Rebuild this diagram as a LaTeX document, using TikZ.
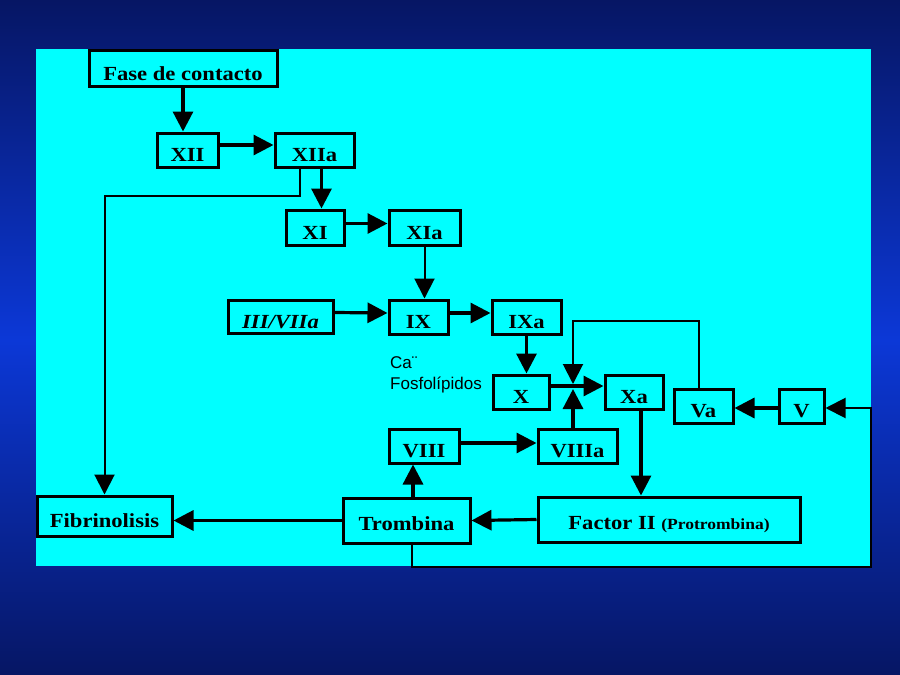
\documentclass[tikz,border=0pt]{standalone}
\usepackage{fontspec}
\setmainfont{Liberation Serif}
\newfontfamily\boxfont[FakeStretch=1.13]{Liberation Serif}
\newfontfamily\labelfont{Liberation Sans}
\usetikzlibrary{arrows.meta}
\definecolor{bgdark}{RGB}{6,22,100}
\definecolor{bgmid}{RGB}{12,56,215}
\definecolor{panel}{RGB}{0,255,255}
\begin{document}
\begin{tikzpicture}[x=1pt,y=-1pt,
  box/.style={draw=black, line width=3pt, fill=panel, inner sep=0pt,
    text height=23pt, text depth=0pt,
    font=\boxfont\bfseries\fontsize{20}{20}\selectfont},
  bigbox/.style={box, text height=20pt},
  arr/.style={line width=3.2pt, -{Triangle[length=20pt,width=20pt]}},
  thinarr/.style={line width=2pt, -{Triangle[length=20pt,width=20pt]}},
  lbl/.style={anchor=west, inner sep=0pt, font=\labelfont\fontsize{17}{17}\selectfont}
]
\useasboundingbox (0,0) rectangle (900,675);
\shade[top color=bgdark, bottom color=bgmid] (0,0) rectangle (900,340);
\shade[top color=bgmid, bottom color=bgdark] (0,340) rectangle (900,675);
\fill[panel] (36,49) rectangle (871,566);

% boxes
\node[box, minimum width=188pt, minimum height=36pt, text height=25pt] (fase) at (183,68) {Fase de contacto};
\node[box, minimum width=61pt, minimum height=34pt] (xii) at (187.5,150) {XII};
\node[box, minimum width=79pt, minimum height=34pt] (xiia) at (314.5,150) {XIIa};
\node[box, minimum width=58pt, minimum height=35pt] (xi) at (315,227.5) {XI};
\node[box, minimum width=71pt, minimum height=35pt] (xia) at (424.5,227.5) {XIa};
\node[box, minimum width=105pt, minimum height=33pt, font=\boxfont\bfseries\itshape\fontsize{20}{20}\selectfont] (iii) at (280.5,316.5) {III/VIIa};
\node[box, minimum width=59pt, minimum height=34pt] (ix) at (418.5,317) {IX};
\node[box, minimum width=69pt, minimum height=34pt] (ixa) at (526.5,317) {IXa};
\node[box, minimum width=56pt, minimum height=34pt] (x) at (521,392) {X};
\node[box, minimum width=58pt, minimum height=34pt] (xa) at (634,392) {Xa};
\node[box, minimum width=59pt, minimum height=34pt] (va) at (703.5,406) {Va};
\node[box, minimum width=45pt, minimum height=34pt] (v) at (801.5,406) {V};
\node[box, minimum width=70pt, minimum height=34pt] (viii) at (424,446) {VIII};
\node[box, minimum width=79pt, minimum height=34pt] (viiia) at (577.5,446) {VIIIa};
\node[box, minimum width=135pt, minimum height=40pt, text height=22pt] (fib) at (104.5,516) {Fibrinolisis};
\node[bigbox, minimum width=127pt, minimum height=45pt] (tromb) at (406.5,520.5) {Trombina};
\node[bigbox, minimum width=262pt, minimum height=45pt] (f2) at (669,519.5) {Factor II {\fontsize{15.5}{15.5}\selectfont (Protrombina)}};

\node[lbl] (ca) at (390,363) {Ca¨};
\node[lbl] (fos) at (390,385) {Fosfolípidos};

\coordinate (j) at (573,386);

% connectors
\draw[arr] (fase.south) -- (fase.south |- xii.north);
\draw[arr] ([yshift=5pt]xii.east) -- ([yshift=5pt]xiia.west);
\draw[arr] ([xshift=7pt]xiia.south) -- ([xshift=7pt]xiia.south |- xi.north);
\draw[thinarr] ([xshift=-14.5pt]xiia.south) -- ++(0,27) -| (fib.north);
\draw[arr] ([yshift=4pt]xi.east) -- ([yshift=4pt]xia.west);
\draw[thinarr] (xia.south) -- (xia.south |- ix.north);
\draw[arr] ([yshift=4pt]iii.east) -- ([yshift=4pt]ix.west);
\draw[arr] ([yshift=4pt]ix.east) -- ([yshift=4pt]ixa.west);
\draw[arr] (ixa.south) -- (ixa.south |- x.north);
\draw[arr] ([yshift=6pt]x.east) -- ([yshift=6pt]xa.west);
\draw[thinarr] ([xshift=-5pt]va.north) -- ++(0,-67) -| ([yshift=2pt]j);
\draw[arr] (j |- viiia.north) -- ([yshift=-3pt]j);
\draw[arr] ([xshift=7pt]xa.south) -- ([xshift=7pt]xa.south |- f2.north);
\draw[arr] (f2.west) -- (tromb.east);
\draw[arr] (tromb.west) -- (tromb.west -| fib.east);
\draw[arr] ([xshift=6.5pt]tromb.north) -- ([xshift=6.5pt]tromb.north |- viii.south);
\draw[arr] ([yshift=3pt]viii.east) -- ([yshift=3pt]viiia.west);
\draw[arr] ([yshift=-2pt]v.west) -- ([yshift=-2pt]va.east);
\draw[thinarr] ([xshift=5pt]tromb.south) -- ++(0,22.5) -| ([xshift=45pt,yshift=-2pt]v.east) -- ([yshift=-2pt]v.east);
\end{tikzpicture}
\end{document}
